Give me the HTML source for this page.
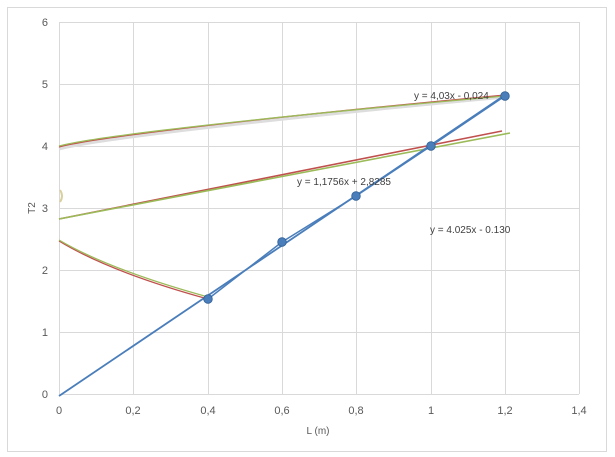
<!DOCTYPE html>
<html><head><meta charset="utf-8"><style>
body{margin:0;background:#fff}
svg{display:block;font-family:"Liberation Sans",sans-serif}
</style></head><body>
<svg width="615" height="457" viewBox="0 0 615 457">
<rect x="7.5" y="7.5" width="599" height="444" fill="#fff" stroke="#d9d9d9"/>
<g stroke="#d9d9d9" stroke-width="1">
<line x1="59" y1="22.5" x2="579" y2="22.5"/><line x1="59" y1="84.5" x2="579" y2="84.5"/>
<line x1="59" y1="146.5" x2="579" y2="146.5"/><line x1="59" y1="208.5" x2="579" y2="208.5"/>
<line x1="59" y1="270.5" x2="579" y2="270.5"/><line x1="59" y1="332.5" x2="579" y2="332.5"/>
<line x1="59" y1="394.5" x2="579" y2="394.5"/>
<line x1="59.5" y1="22" x2="59.5" y2="394"/><line x1="133.5" y1="22" x2="133.5" y2="394"/>
<line x1="208.5" y1="22" x2="208.5" y2="394"/><line x1="282.5" y1="22" x2="282.5" y2="394"/>
<line x1="356.5" y1="22" x2="356.5" y2="394"/><line x1="431.5" y1="22" x2="431.5" y2="394"/>
<line x1="505.5" y1="22" x2="505.5" y2="394"/><line x1="579.5" y1="22" x2="579.5" y2="394"/>
</g>
<g font-size="11" fill="#595959" text-anchor="end">
<text x="48" y="26">6</text><text x="48" y="88">5</text><text x="48" y="150">4</text>
<text x="48" y="212">3</text><text x="48" y="274">2</text><text x="48" y="336">1</text><text x="48" y="398">0</text>
</g>
<g font-size="11" fill="#595959" text-anchor="middle">
<text x="59" y="414">0</text><text x="133" y="414">0,2</text><text x="208" y="414">0,4</text>
<text x="282" y="414">0,6</text><text x="356" y="414">0,8</text><text x="431" y="414">1</text>
<text x="505" y="414">1,2</text><text x="579" y="414">1,4</text>
<text x="318" y="434" font-size="10">L (m)</text>
<text transform="translate(35,208) rotate(-90)" font-size="10">T2</text>
</g>
<g fill="none" stroke-width="1.3">
<path d="M59,149 C100,138 300,116 505,97" stroke="#ddd" stroke-width="3"/>
<path d="M59,147 C100,136 300,114 505,95" stroke="#c0504d"/>
<path d="M59,146 C100,135 300,114 505,96" stroke="#9bbb59"/>
<line x1="59" y1="219" x2="502" y2="131" stroke="#c0504d" stroke-width="1.6"/>
<line x1="59" y1="219" x2="510" y2="133" stroke="#9bbb59" stroke-width="1.6"/>
<path d="M59,241 Q110,272 208,299" stroke="#c0504d"/>
<path d="M59,240 Q110,270 208,297" stroke="#9bbb59"/>
<path d="M60,190 Q64,196 60,202" stroke="#d9d0a0" stroke-width="2"/>
<line x1="59" y1="396" x2="505" y2="95" stroke="#4a7ebb" stroke-width="1.8"/>
<polyline points="208,299 282,242 356,196 431,146 505,96" stroke="#4a7ebb" stroke-width="1.5"/>
</g>
<g fill="#4a7ebb" stroke="#2f5f96" stroke-width="0.8">
<circle cx="208" cy="299" r="4.3"/><circle cx="282" cy="242" r="4.3"/><circle cx="356" cy="196" r="4.3"/>
<circle cx="431" cy="146" r="4.3"/><circle cx="505" cy="96" r="4.3"/>
</g>
<g font-size="10" fill="#404040">
<text x="414" y="99">y = 4,03x - 0,024</text>
<text x="297" y="185">y = 1,1756x + 2,8285</text>
<text x="430" y="233">y = 4.025x - 0.130</text>
</g>
</svg>
</body></html>
